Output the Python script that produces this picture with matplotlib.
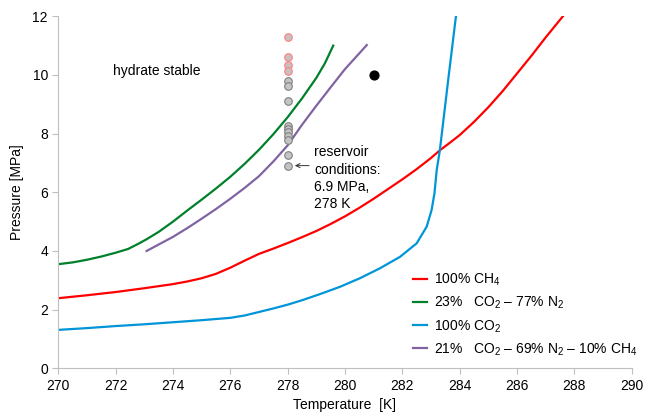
import matplotlib
matplotlib.use('Agg')
import matplotlib.pyplot as plt

plt.rcParams['font.family'] = ['Liberation Sans', 'DejaVu Sans']
plt.rcParams['mathtext.fontset'] = 'custom'
plt.rcParams['mathtext.rm'] = 'Liberation Sans'

# hydrate equilibrium curves
ch4_T = [270, 271, 272, 273, 274, 274.5, 275, 275.5, 276, 276.5, 277, 277.5, 278, 278.5,
         279, 279.5, 280, 280.5, 281, 281.5, 282, 282.5, 283, 283.32, 283.7, 284,
         284.5, 285, 285.5, 286, 286.5, 287, 287.6]
ch4_P = [2.39, 2.49, 2.6, 2.73, 2.87, 2.96, 3.07, 3.22, 3.43, 3.67, 3.9, 4.08, 4.27, 4.47,
         4.68, 4.92, 5.18, 5.47, 5.78, 6.11, 6.44, 6.79, 7.17, 7.44, 7.72, 7.95,
         8.4, 8.9, 9.45, 10.05, 10.65, 11.28, 12.0]

co2n2_T = [270, 270.5, 271, 271.5, 272, 272.44, 272.8, 273.08, 273.5, 274, 274.5, 275,
           275.5, 276, 276.5, 277, 277.5, 278, 278.5, 279, 279.3, 279.59]
co2n2_P = [3.55, 3.61, 3.7, 3.81, 3.94, 4.07, 4.25, 4.4, 4.65, 5.0, 5.38, 5.75,
           6.13, 6.53, 6.97, 7.45, 7.98, 8.56, 9.2, 9.9, 10.4, 11.0]

co2_T = [270, 271, 272, 273, 274, 275, 276, 276.5, 277, 277.5, 278, 278.5, 279.13, 279.83,
         280.52, 281.22, 281.92, 282.5, 282.85, 283.02, 283.12, 283.2, 283.31, 283.6, 283.87]
co2_P = [1.31, 1.37, 1.44, 1.5, 1.57, 1.64, 1.72, 1.8, 1.92, 2.04, 2.17, 2.32, 2.53, 2.78,
         3.07, 3.41, 3.8, 4.26, 4.83, 5.39, 5.96, 6.76, 7.44, 9.83, 12.0]

mix_T = [273.08, 273.5, 274, 274.5, 275, 275.5, 276, 276.5, 277, 277.5, 278, 278.5,
         279, 279.5, 280, 280.4, 280.76]
mix_P = [4.0, 4.22, 4.48, 4.78, 5.1, 5.43, 5.78, 6.15, 6.55, 7.05, 7.6, 8.3,
         8.95, 9.58, 10.2, 10.63, 11.02]

# measurements at 278 K
grey_P = [9.81, 9.62, 9.10, 8.27, 8.16, 8.06, 7.93, 7.80, 7.28, 6.91]
pink_P = [11.31, 10.61, 10.35, 10.14]
meas_T = 278

fig = plt.figure(figsize=(6.5, 4.18), dpi=100)
ax = fig.add_axes([0.0897, 0.1189, 0.8821, 0.8421])

ax.plot(ch4_T, ch4_P, color='#ff0000', lw=1.6, label='100% CH$_4$')
ax.plot(co2n2_T, co2n2_P, color='#00802b', lw=1.6, label='23%   CO$_2$ – 77% N$_2$')
ax.plot(co2_T, co2_P, color='#0095d9', lw=1.6, label='100% CO$_2$')
ax.plot(mix_T, mix_P, color='#8064a2', lw=1.6, label='21%   CO$_2$ – 69% N$_2$ – 10% CH$_4$')

ax.scatter([meas_T] * len(grey_P), grey_P, s=30, facecolor='#c4c4c4', edgecolor='#808080', lw=0.8, zorder=3)
ax.scatter([meas_T] * len(pink_P), pink_P, s=30, facecolor='#c8c0c0', edgecolor='#ff8080', lw=0.8, zorder=3)
ax.scatter([281], [10], s=40, color='black', zorder=3)

ax.text(271.9, 10.15, 'hydrate stable', fontsize=10, va='center')
ax.text(278.93, 7.6, 'reservoir\nconditions:\n6.9 MPa,\n278 K', fontsize=10, va='top',
        linespacing=1.3)
ax.annotate('', xy=(278.25, 6.91), xytext=(278.75, 6.91),
            arrowprops=dict(arrowstyle='->,head_length=0.3,head_width=0.15', lw=0.7,
                            color='#333333', shrinkA=0, shrinkB=0))

ax.set_xlim(270, 290)
ax.set_ylim(0, 12)
ax.set_xticks(range(270, 291, 2))
ax.set_yticks(range(0, 13, 2))
ax.set_xlabel('Temperature  [K]', fontsize=10)
ax.set_ylabel('Pressure [MPa]', fontsize=10, labelpad=6)
for s in ['top', 'right']:
    ax.spines[s].set_visible(False)
for s in ['left', 'bottom']:
    ax.spines[s].set_color('#bfbfbf')
ax.tick_params(colors='#bfbfbf', labelcolor='black', labelsize=10, length=4)

ax.legend(loc='upper left', bbox_to_anchor=(412.7 / 650, 1 - 272 / 418),
          bbox_transform=fig.transFigure, frameon=False, fontsize=10,
          handlelength=1.0, handletextpad=0.5, labelspacing=0.48,
          borderpad=0, borderaxespad=0)

fig.savefig('out.png', dpi=100)
